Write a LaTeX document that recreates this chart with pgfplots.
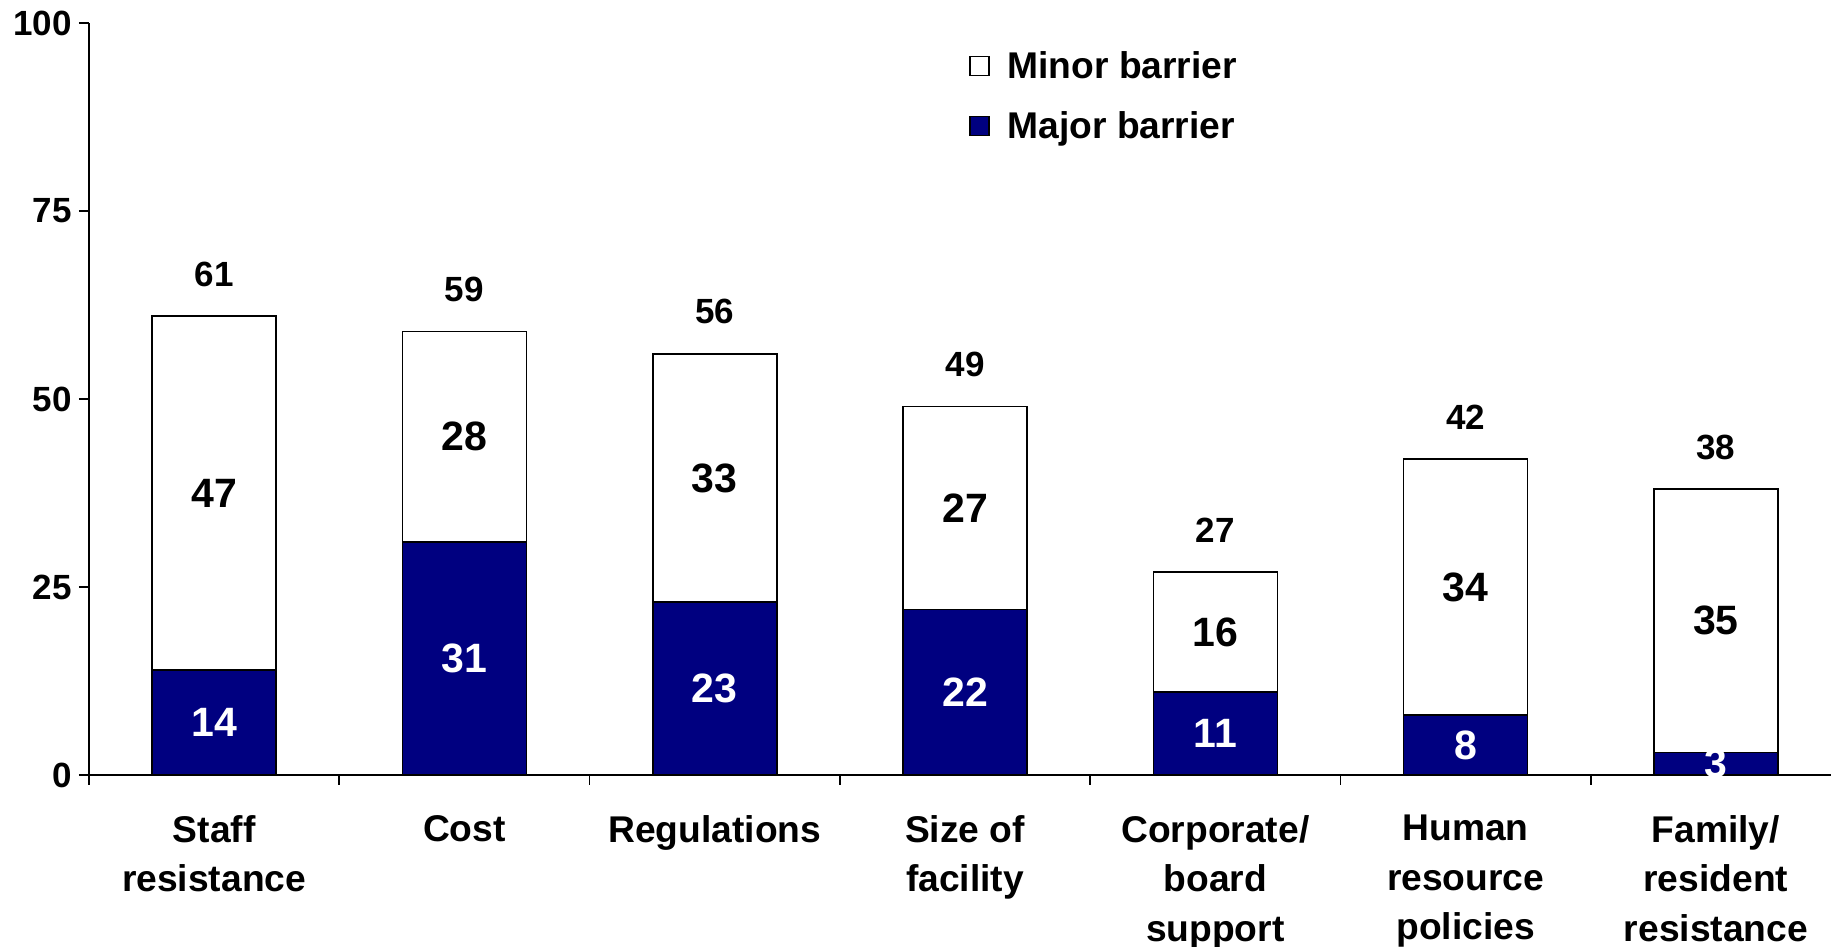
\documentclass[border=0pt]{standalone}
\usepackage{pgfplots}
\pgfplotsset{compat=1.18}
\usepackage{pgfplotstable}
\usepackage{fontspec}
\setmainfont{Liberation Sans}
\definecolor{navybar}{RGB}{0,0,128}
\pgfplotstableread{
x major minor
0 14 47
1 31 28
2 23 33
3 22 27
4 11 16
5 8 34
6 3 35
}\datatable
\newcommand{\inlab}{\bfseries\fontsize{20.5}{24}\selectfont}
\newcommand{\toplab}{\bfseries\fontsize{17.5}{21}\selectfont}
\pgfplotsset{samebox/.style={at={(0pt,0pt)}, anchor=south west,
  scale only axis, width=871pt, height=376pt,
  xmin=-0.5, xmax=6.46, ymin=0, ymax=100}}
\begin{document}
\begin{tikzpicture}
\begin{axis}[
  samebox,
  ybar stacked, bar width=62pt,
  axis x line*=bottom, axis y line*=left,
  axis line style={line width=0.9pt},
  tick align=outside, major tick length=5pt,
  tick style={line width=0.8pt, black},
  ytick={0,25,50,75,100},
  yticklabel style={font=\bfseries\fontsize{17.5}{20}\selectfont},
  /pgf/number format/assume math mode=true,
  xtick={-0.5,0.5,...,5.5}, xticklabels={},
  extra x ticks={0,1,2,3,4,5,6},
  extra x tick labels={{Staff\\resistance},Cost,Regulations,{Size of\\facility},{Corporate/\\board\\support},{Human\\resource\\policies},{Family/\\resident\\resistance}},
  extra x tick style={major tick length=0pt, tick style={draw=none},
    xticklabel style={align=center, anchor=north, font=\bfseries\fontsize{18.6}{24.8}\selectfont, yshift=-16.5pt}},
  reverse legend,
  legend style={draw=none, fill=none, at={(0.505,0.963)}, anchor=north west,
    font=\bfseries\fontsize{18.6}{22}\selectfont, row sep=15pt, column sep=9pt,
    inner sep=0pt, nodes={inner sep=0pt}},
  legend cell align=left,
  legend image code/.code={\draw[#1, line width=0.7pt] (0pt,-4.75pt) rectangle (9.5pt,4.75pt);},
  clip=false,
]
\addplot[fill=navybar, draw=black, line width=0.8pt] table[x=x, y=major] {\datatable};
\addlegendentry{Major barrier}
\addplot[fill=white, draw=black, line width=0.8pt] table[x=x, y=minor] {\datatable};
\addlegendentry{Minor barrier}
\end{axis}
\begin{axis}[samebox, hide axis, clip=false]
% labels inside the major segments
\node[white, font=\inlab] at (axis cs:0,7) {14};
\node[white, font=\inlab] at (axis cs:1,15.5) {31};
\node[white, font=\inlab] at (axis cs:2,11.5) {23};
\node[white, font=\inlab] at (axis cs:3,11) {22};
\node[white, font=\inlab] at (axis cs:4,5.5) {11};
\node[white, font=\inlab] at (axis cs:5,4) {8};
\node[white, font=\inlab] at (axis cs:6,1.5) {3};
% labels inside the minor segments
\node[black, font=\inlab] at (axis cs:0,37.5) {47};
\node[black, font=\inlab] at (axis cs:1,45) {28};
\node[black, font=\inlab] at (axis cs:2,39.5) {33};
\node[black, font=\inlab] at (axis cs:3,35.5) {27};
\node[black, font=\inlab] at (axis cs:4,19) {16};
\node[black, font=\inlab] at (axis cs:5,25) {34};
\node[black, font=\inlab] at (axis cs:6,20.5) {35};
% totals
\node[black, font=\toplab, yshift=21pt] at (axis cs:0,61) {61};
\node[black, font=\toplab, yshift=21pt] at (axis cs:1,59) {59};
\node[black, font=\toplab, yshift=21pt] at (axis cs:2,56) {56};
\node[black, font=\toplab, yshift=21pt] at (axis cs:3,49) {49};
\node[black, font=\toplab, yshift=21pt] at (axis cs:4,27) {27};
\node[black, font=\toplab, yshift=21pt] at (axis cs:5,42) {42};
\node[black, font=\toplab, yshift=21pt] at (axis cs:6,38) {38};
\end{axis}
\pgfresetboundingbox
\path[use as bounding box] (-44.5pt,-86pt) rectangle (871pt,387.5pt);
\end{tikzpicture}
\end{document}
